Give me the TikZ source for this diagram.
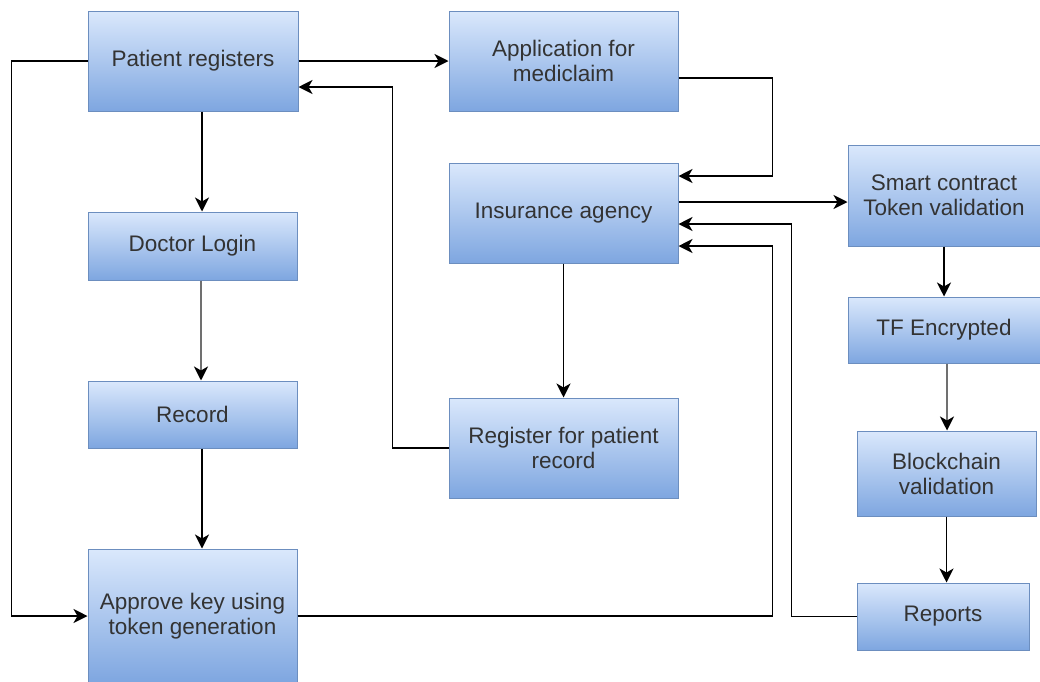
\documentclass[tikz,border=0pt]{standalone}
\usepackage{fontspec}
\setmainfont{Liberation Sans}
\usetikzlibrary{arrows.meta,calc}
\definecolor{boxtop}{HTML}{DAE8FC}
\definecolor{boxbot}{HTML}{7EA6E0}
\definecolor{boxline}{HTML}{6C8EBF}
\definecolor{txt}{HTML}{333333}
\definecolor{greyline}{HTML}{707070}
\begin{document}
\begin{tikzpicture}[x=1pt,y=-1pt,
  box/.style={draw=boxline,line width=1pt,top color=boxtop,bottom color=boxbot,
    text=txt,align=center,inner sep=0pt,
    font=\fontsize{22.5}{25}\selectfont},
  arr/.style={draw=black,line width=1.9pt,-{Stealth[length=14pt,width=14pt,inset=4pt,black]}},
  garr/.style={arr,draw=greyline,line width=2.6pt}]
\useasboundingbox (0,0) rectangle (1040,681);
\fill[white] (0,0) rectangle (1040,681);
% nodes
\node[box,minimum width=210pt,minimum height=100pt] (pr) at (193,61) {Patient registers};
\node[box,minimum width=229pt,minimum height=100pt] (app) at (563.5,61) {Application for\\mediclaim};
\node[box,minimum width=229pt,minimum height=100pt] (ins) at (563.5,213) {Insurance agency};
\node[box,minimum width=229pt,minimum height=100pt] (reg) at (563.5,448) {Register for patient\\record};
\node[box,minimum width=209pt,minimum height=68pt] (dl) at (192.5,246) {Doctor Login};
\node[box,minimum width=209pt,minimum height=67pt] (rec) at (192.5,414.5) {Record};
\node[box,minimum width=209pt,minimum height=134pt] (ap) at (192.5,616) {Approve key using\\token generation};
\node[box,minimum width=192pt,minimum height=101pt] (sc) at (944,195.5) {Smart contract\\Token validation};
\node[box,minimum width=192pt,minimum height=66pt] (tf) at (944,330) {TF Encrypted};
\node[box,minimum width=179pt,minimum height=85pt] (bc) at (946.5,473.5) {Blockchain\\validation};
\node[box,minimum width=172pt,minimum height=67pt] (rep) at (943,616.5) {Reports};
% connectors
\draw[arr] (pr.east) -- (app.west);
\draw[arr] ([yshift=-17pt]app.east) -- ++(94,0) |- ([yshift=37pt]ins.east);
\draw[arr] ([yshift=11pt]ins.east) -- ([yshift=11pt]ins.east -| sc.west);
\draw[arr] (rep.west) -- ++(-65,0) |- ([yshift=-11pt]ins.east);
\draw[arr] (ap.east) -- ++(475,0) |- ([yshift=-33pt]ins.east);
\draw[arr] (ins.south) -- (reg.north);
\draw[arr] (reg.west) -- ++(-56,0) |- ([yshift=-26pt]pr.east);
\draw[arr] (pr.west) -- ++(-76,0) |- (ap.west);
\draw[arr] ([xshift=9pt]pr.south) -- ([xshift=9pt]pr.south |- dl.north);
\draw[garr] ([xshift=8.5pt]dl.south) -- ([xshift=8.5pt]dl.south |- rec.north);
\draw[arr] ([xshift=9.5pt]rec.south) -- ([xshift=9.5pt]rec.south |- ap.north);
\draw[arr] (sc.south) -- (sc.south |- tf.north);
\draw[garr] ([xshift=3pt]tf.south) -- ([xshift=3pt]tf.south |- bc.north);
\draw[arr] (bc.south) -- (bc.south |- rep.north);
\end{tikzpicture}
\end{document}
